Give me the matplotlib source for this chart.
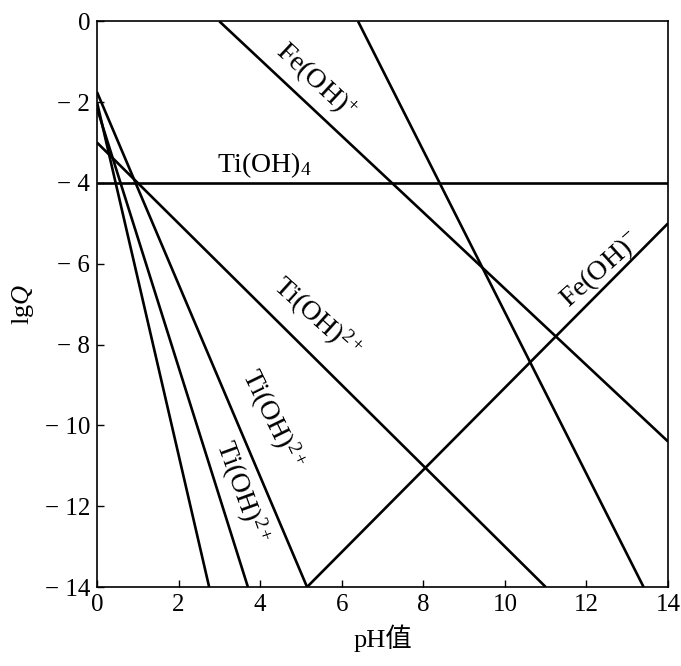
import matplotlib
matplotlib.use('Agg')
import matplotlib.pyplot as plt
import numpy as np

plt.rcParams['font.family'] = ['Liberation Serif', 'Noto Sans CJK SC']
plt.rcParams['mathtext.fontset'] = 'custom'
plt.rcParams['mathtext.rm'] = 'Liberation Serif'
plt.rcParams['mathtext.it'] = 'Liberation Serif:italic'

# line endpoints (pH, lgQ)
fe_oh_plus_x = [3.0, 14.0]
fe_oh_plus_y = [0.0, -10.4]

fe_steep_x = [6.4, 13.4]
fe_steep_y = [0.0, -14.0]

ti_oh4_x = [0.0, 14.0]
ti_oh4_y = [-4.0, -4.0]

ti_oh2_x = [0.0, 11.0]
ti_oh2_y = [-3.0, -14.0]

fe_oh_minus_x = [5.15, 14.0]
fe_oh_minus_y = [-14.0, -5.0]

steep1_x = [0.0, 2.75]
steep1_y = [-2.0, -14.0]

steep2_x = [0.0, 3.7]
steep2_y = [-2.15, -14.0]

steep3_x = [0.0, 5.15]
steep3_y = [-1.75, -14.0]

lines = [(fe_oh_plus_x, fe_oh_plus_y), (fe_steep_x, fe_steep_y),
         (ti_oh4_x, ti_oh4_y), (ti_oh2_x, ti_oh2_y),
         (fe_oh_minus_x, fe_oh_minus_y), (steep1_x, steep1_y),
         (steep2_x, steep2_y), (steep3_x, steep3_y)]

xticks = [0, 2, 4, 6, 8, 10, 12, 14]
yticks = [0, -2, -4, -6, -8, -10, -12, -14]

fig = plt.figure(figsize=(6.81, 6.66), dpi=100)
ax = fig.add_axes([0.1424, 0.1186, 0.8386, 0.8494])

for xs, ys in lines:
	ax.plot(xs, ys, color='black', linewidth=1.9, solid_capstyle='butt')

ax.set_xlim(0, 14)
ax.set_ylim(-14, 0)
ax.set_xticks(xticks)
ax.set_yticks(yticks)
ax.set_yticklabels(['0' if t == 0 else '\u2212' + ' ' + str(-t) for t in yticks])
ax.tick_params(direction='in', length=5, width=1, labelsize=18, pad=5)
for sp in ax.spines.values():
	sp.set_linewidth(1.2)

ax.set_xlabel('pH值', fontsize=19, labelpad=6)
ax.set_ylabel('lg$Q$', fontsize=19, labelpad=6)

lbl = 20
ax.text(5.35, -1.5, 'Fe(OH)$^{+}$', fontsize=lbl, rotation=-43, ha='center', va='center')
ax.text(4.1, -3.55, 'Ti(OH)$_4$', fontsize=lbl, ha='center', va='center')
ax.text(5.4, -7.35, 'Ti(OH)$^{2+}$', fontsize=lbl, rotation=-42, ha='center', va='center')
ax.text(12.35, -6.15, 'Fe(OH)$^{-}$', fontsize=lbl, rotation=42, ha='center', va='center')
ax.text(4.3, -9.85, 'Ti(OH)$^{2+}$', fontsize=lbl, rotation=-64, ha='center', va='center')
ax.text(3.55, -11.65, 'Ti(OH)$^{2+}$', fontsize=lbl, rotation=-70, ha='center', va='center')

plt.savefig('out.png', dpi=100)
